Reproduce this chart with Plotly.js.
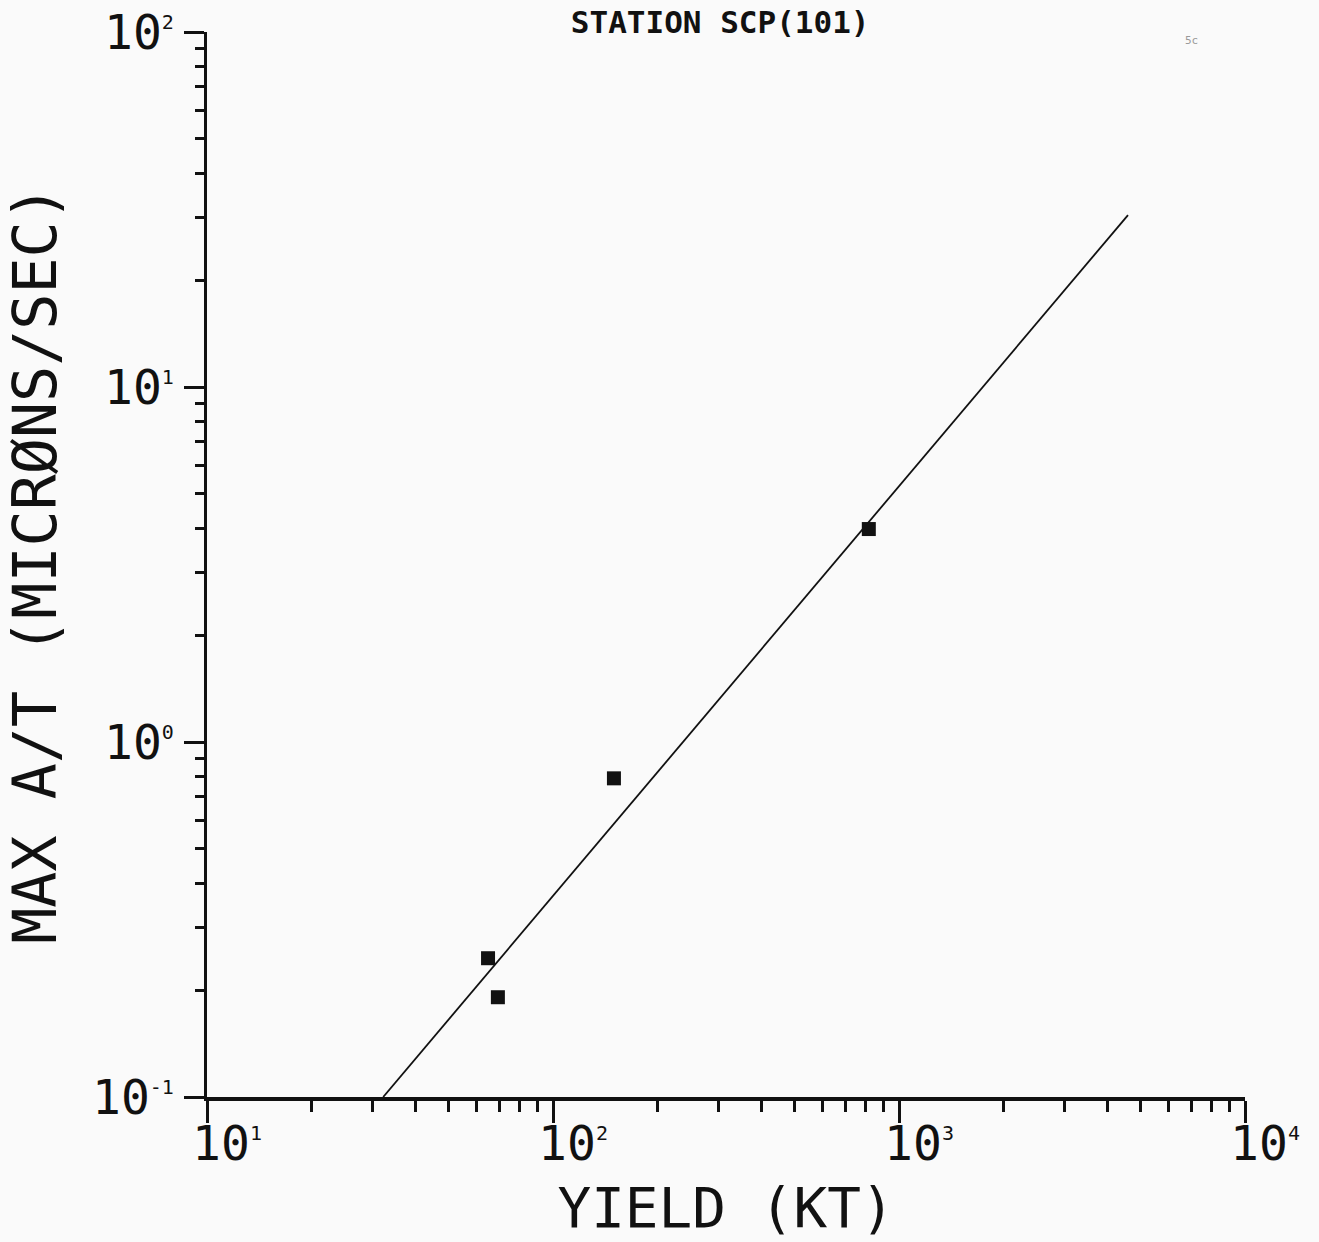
<!DOCTYPE html>
<html>
<head>
<meta charset="utf-8">
<script src="https://cdn.plot.ly/plotly-3.0.1.min.js"></script>
<style>html,body{margin:0;padding:0;background:#fafafa;}#chart{width:1319px;height:1242px;}</style>
</head>
<body>
<div id="chart"></div>
<script>
// Data
const yieldKT = [64.9, 69.3, 150, 818];
const maxAT = [0.246, 0.191, 0.79, 3.98];
const fitX = [32.3, 4590];
const fitY = [0.1, 30.5];

const xTickVals = [10, 100, 1000, 10000];
const xExp = ['1', '2', '3', '4'];
const yTickVals = [0.1, 1, 10, 100];
const yExp = ['-1', '0', '1', '2'];

function supLabel(e) { return '10<sup><span style="font-size:20px">' + e + '</span></sup>'; }
function minorVals(lo, hi) {
  const v = [];
  for (let d = lo; d < hi; d++) for (let m = 2; m <= 9; m++) v.push(m * Math.pow(10, d));
  return v;
}

const font = 'DejaVu Sans Mono, Liberation Mono, monospace';

const traces = [
  {x: fitX, y: fitY, mode: 'lines', type: 'scatter', line: {color: '#111', width: 1.8}, hoverinfo: 'skip'},
  {x: yieldKT, y: maxAT, mode: 'markers', type: 'scatter', marker: {symbol: 'square', size: 14, color: '#111'}}
];

const layout = {
  width: 1319, height: 1242,
  paper_bgcolor: '#fafafa', plot_bgcolor: '#fafafa',
  showlegend: false,
  margin: {l: 207, r: 74, t: 32, b: 145},
  title: {text: '<b>STATION SCP(101)</b>', font: {family: font, size: 31, color: '#111'}, x: 0.546, xanchor: 'center', y: 0.982, yanchor: 'middle'},
  xaxis: {
    type: 'log', range: [1, 4],
    tickvals: xTickVals, ticktext: xExp.map(supLabel),
    ticks: 'outside', ticklen: 22, tickwidth: 3, tickcolor: '#111',
    ticklabelstandoff: -20, ticklabelshift: 20,
    showline: true, linewidth: 3.5, linecolor: '#111', mirror: false,
    showgrid: false, zeroline: false,
    tickfont: {family: font, size: 48, color: '#111'},
    minor: {tickvals: minorVals(1, 4), ticks: 'outside', ticklen: 11, tickwidth: 3, tickcolor: '#111', showgrid: false},
    title: {text: 'YIELD (KT)', font: {family: font, size: 56, color: '#111'}, standoff: 18}
  },
  yaxis: {
    type: 'log', range: [-1, 2],
    tickvals: yTickVals, ticktext: yExp.map(supLabel),
    ticks: 'outside', ticklen: 20, tickwidth: 3, tickcolor: '#111',
    showline: true, linewidth: 3.5, linecolor: '#111', mirror: false,
    showgrid: false, zeroline: false,
    tickfont: {family: font, size: 48, color: '#111'},
    minor: {tickvals: minorVals(-1, 2), ticks: 'outside', ticklen: 9, tickwidth: 3, tickcolor: '#111', showgrid: false},
    title: {text: 'MAX A/T (MICRØNS/SEC)', font: {family: font, size: 60, color: '#111'}, standoff: 30}
  },
  annotations: [
    {text: '5c', xref: 'paper', yref: 'paper', x: 0.948, y: 1.0, xanchor: 'center', yanchor: 'top', showarrow: false, font: {family: font, size: 11, color: '#999'}}
  ]
};

Plotly.newPlot('chart', traces, layout, {displayModeBar: false, staticPlot: true});
</script>
</body>
</html>
